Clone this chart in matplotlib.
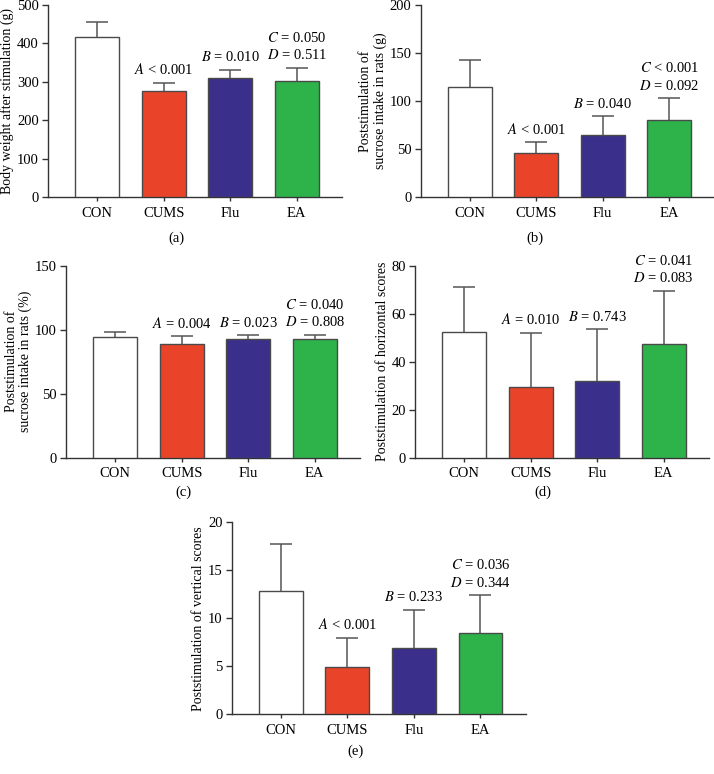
import matplotlib
matplotlib.use("Agg")
import matplotlib.pyplot as plt

plt.rcParams['font.family'] = ['Liberation Serif', 'DejaVu Serif']
plt.rcParams['mathtext.fontset'] = 'stix'
plt.rcParams['font.size'] = 10.5

groups = ["CON", "CUMS", "Flu", "EA"]
colors = ["#FFFFFF", "#E9442A", "#3A2F8B", "#2EB34B"]

# means and upper error-bar tops
weight_mean = [417, 275, 309, 301]
weight_top = [455, 297, 332, 336]
sucrose_g_mean = [115, 46, 65, 80]
sucrose_g_top = [143, 57, 84, 103]
sucrose_pct_mean = [94.5, 89, 93, 92.5]
sucrose_pct_top = [98, 95, 95.5, 96]
horizontal_mean = [52.5, 29.5, 32, 47.5]
horizontal_top = [71, 52, 53.5, 69.5]
vertical_mean = [12.8, 4.9, 6.9, 8.5]
vertical_top = [17.7, 8.0, 10.9, 12.4]

notes_a = ["", "$A$ < 0.001", "$B$ = 0.010", "$C$ = 0.050\n$D$ = 0.511"]
notes_b = ["", "$A$ < 0.001", "$B$ = 0.040", "$C$ < 0.001\n$D$ = 0.092"]
notes_c = ["", "$A$ = 0.004", "$B$ = 0.023", "$C$ = 0.040\n$D$ = 0.808"]
notes_d = ["", "$A$ = 0.010", "$B$ = 0.743", "$C$ = 0.041\n$D$ = 0.083"]
notes_e = ["", "$A$ < 0.001", "$B$ = 0.233", "$C$ = 0.036\n$D$ = 0.344"]

W, H = 714, 774
fig = plt.figure(figsize=(W / 100, H / 100), dpi=100)


def make_axes(left_px, bottom_px):
    return fig.add_axes([left_px / W, 1 - bottom_px / H, 294 / W, 192 / H])


def draw_panel(ax, means, tops, notes, ymax, ystep, ylabel, tag, tag_x, tag_y):
    x = list(range(len(groups)))
    err = [t - m for m, t in zip(means, tops)]
    eb = ax.errorbar(x, means, yerr=[[0] * len(err), err], fmt="none", ecolor="#555555",
                     elinewidth=1.1, capsize=8, capthick=1.1, zorder=2)
    eb[1][0].set_visible(False)  # no cap at the bar top
    ax.bar(x, means, width=0.66, color=colors, edgecolor="#4a4a4a", linewidth=1.0, zorder=3)
    for xi, t, note in zip(x, tops, notes):
        if note:
            ax.annotate(note, (xi, t), xytext=(0, 4), textcoords="offset points",
                        ha="center", va="bottom", fontsize=10.5, linespacing=1.3)
    ax.set_xlim(-0.74, 3.68)
    ax.set_ylim(0, ymax)
    ax.set_yticks(range(0, ymax + 1, ystep))
    ax.set_xticks(x)
    ax.set_xticklabels(groups)
    ax.set_ylabel(ylabel, fontsize=10, linespacing=1.1, labelpad=2)
    for s in ["top", "right"]:
        ax.spines[s].set_visible(False)
    for s in ["left", "bottom"]:
        ax.spines[s].set_color("#333333")
        ax.spines[s].set_linewidth(1.0)
    ax.tick_params(axis="y", length=4.5, width=1.0, color="#333333", pad=2)
    ax.tick_params(axis="x", length=3, width=1.0, color="#333333", pad=4)
    fig.text(tag_x / W, 1 - tag_y / H, tag, ha="center", va="center", fontsize=10.5)


ax_a = make_axes(48, 197)
draw_panel(ax_a, weight_mean, weight_top, notes_a, 500, 100,
           "Body weight after stimulation (g)", "(a)", 176, 238)

ax_b = make_axes(420.5, 197)
draw_panel(ax_b, sucrose_g_mean, sucrose_g_top, notes_b, 200, 50,
           "Poststimulation of\nsucrose intake in rats (g)", "(b)", 535, 238)

ax_c = make_axes(66, 457.7)
draw_panel(ax_c, sucrose_pct_mean, sucrose_pct_top, notes_c, 150, 50,
           "Poststimulation of\nsucrose intake in rats (%)", "(c)", 183, 492)

ax_d = make_axes(415, 457.7)
draw_panel(ax_d, horizontal_mean, horizontal_top, notes_d, 80, 20,
           "Poststimulation of horizontal scores", "(d)", 543, 492)

ax_e = make_axes(231.7, 714.3)
draw_panel(ax_e, vertical_mean, vertical_top, notes_e, 20, 5,
           "Poststimulation of vertical scores", "(e)", 355, 751)

fig.savefig("out.png", dpi=100)
